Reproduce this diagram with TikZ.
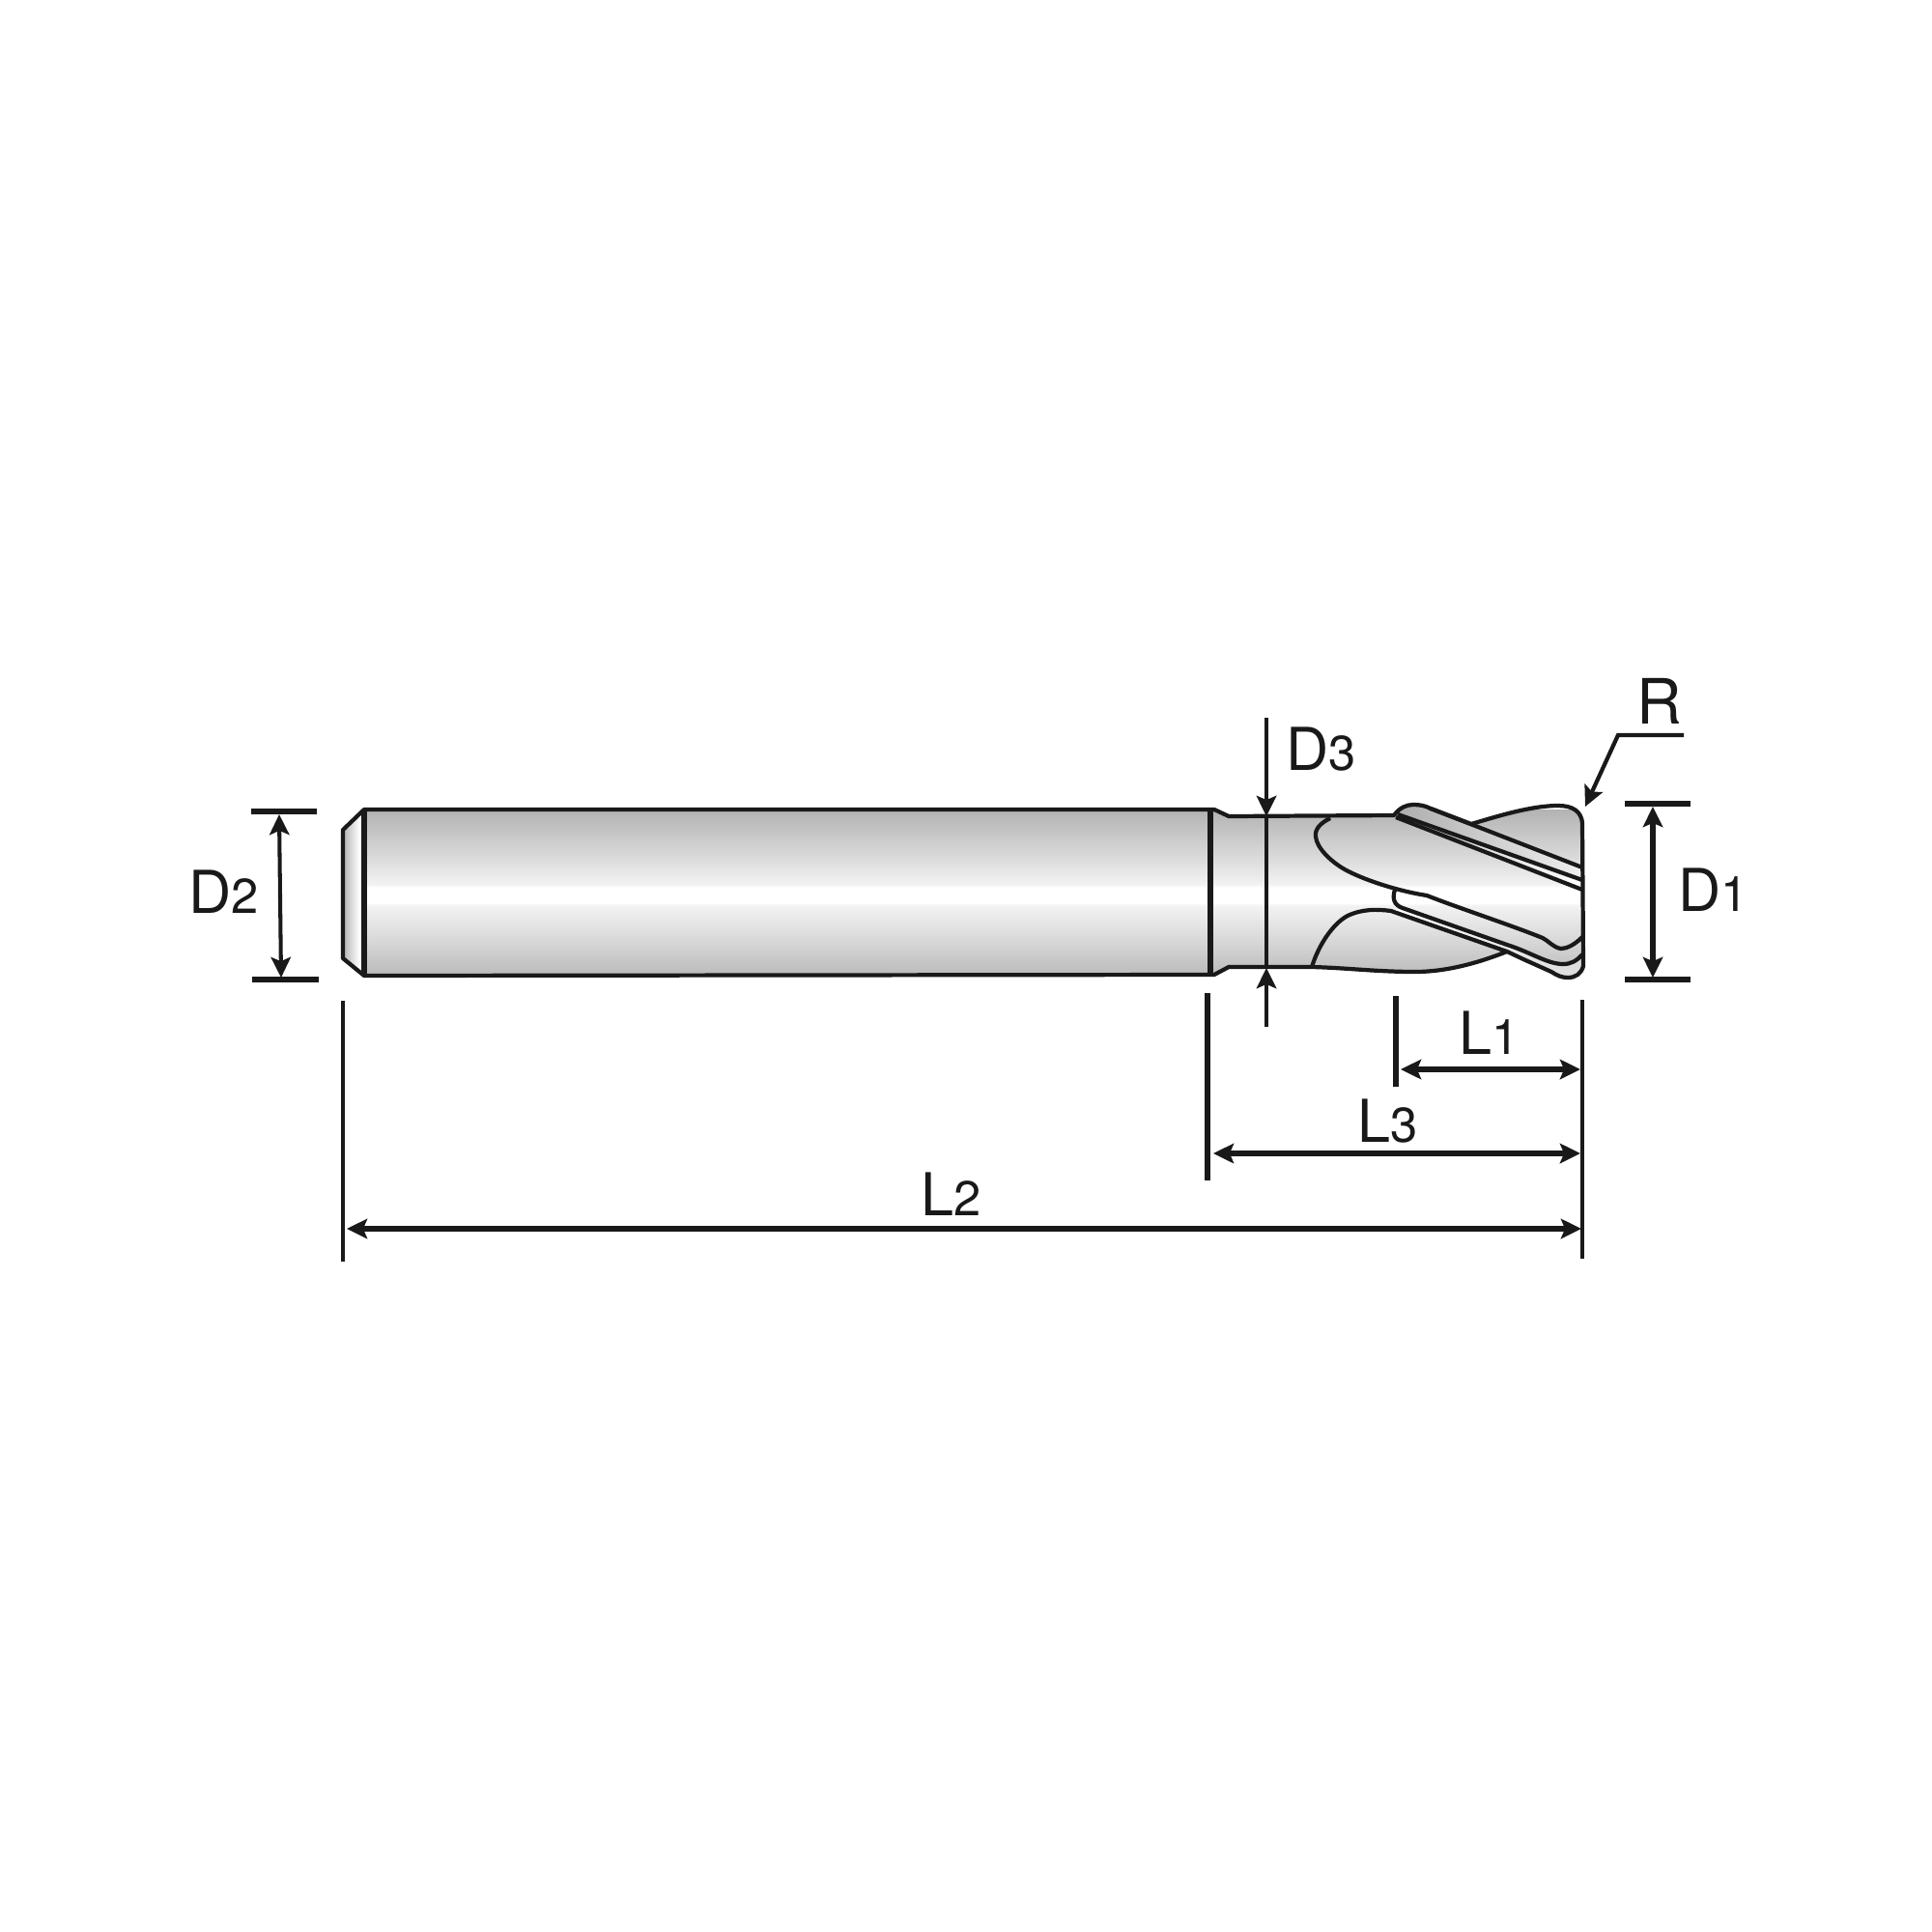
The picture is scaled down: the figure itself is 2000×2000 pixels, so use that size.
\documentclass[tikz,border=0pt]{standalone}
\usepackage{fontspec}
\setmainfont{TeX Gyre Heros}
\usetikzlibrary{arrows.meta}
\pgfdeclareverticalshading{toolgrad}{100bp}{
  color(0bp)=(black!27); color(25bp)=(black!27); color(36bp)=(black!15); color(46bp)=(black!5);
  color(47bp)=(white); color(51.5bp)=(white); color(52.5bp)=(black!5); color(62bp)=(black!16); color(75bp)=(black!30); color(100bp)=(black!30)}
\newcommand{\dimtext}[2]{#1{\fontsize{14.4}{15}\selectfont #2}}
\tikzset{
  x=0.01cm,y=-0.01cm,
  outline/.style={draw=inkc,line width=1.2pt,line join=round},
  thinline/.style={draw=inkc,line width=1.2pt},
  midline/.style={draw=inkc,line width=1.6pt},
  thickbar/.style={draw=inkc,line width=1.9pt},
  dimarrow/.style={draw=inkc,line width=1.6pt,{Stealth[length=6pt,width=5.8pt,inset=1.2pt]}-{Stealth[length=6pt,width=5.8pt,inset=1.2pt]}},
  slimarrow/.style={draw=inkc,line width=1.15pt,{Stealth[length=6pt,width=5.8pt,inset=1.2pt]}-{Stealth[length=6pt,width=5.8pt,inset=1.2pt]}},
  headarrow/.style={draw=inkc,line width=1.2pt,-{Stealth[length=6pt,width=5.8pt,inset=1.2pt]}},
  dimlabel/.style={anchor=base west,inner sep=0pt,text=inkc,font=\fontsize{17.4}{18}\selectfont},
}
\definecolor{inkc}{gray}{0.1}
\begin{document}
\begin{tikzpicture}
\useasboundingbox (0,0) rectangle (2000,2000);
% body shading
\begin{scope}
  \clip (377,838) -- (1257,838) -- (1272,845) -- (1443,844)
    .. controls (1449,836) and (1456,833) .. (1463,833)
    .. controls (1470,833) and (1475,834) .. (1481,837)
    -- (1523,853) .. controls (1550,845) and (1585,834) .. (1613,834)
    .. controls (1628,834) and (1637,840) .. (1638,852)
    -- (1639,1000) .. controls (1637,1008) and (1631,1012) .. (1623,1012)
    .. controls (1617,1012) and (1612,1010) .. (1606,1006)
    -- (1577,990) -- (1560,986) .. controls (1535,995) and (1500,1006) .. (1465,1006)
    .. controls (1425,1006) and (1395,1002) .. (1358,1001)
    -- (1272,1001) -- (1257,1009) -- (377,1010) -- cycle;
  \shade[shading=toolgrad] (370,838) rectangle (1645,1010);
\end{scope}
% chamfer
\begin{scope}
  \clip (355,859) -- (377,838) -- (377,1010) -- (355,992) -- cycle;
  \shade[left color=black!30,right color=white] (355,838) rectangle (372,1010);
  \fill[white] (372,838) rectangle (377,1010);
\end{scope}
% land fills
\shade[left color=black!32,right color=black!6] (1447,843) .. controls (1450,836) and (1456,833) .. (1463,833)
   .. controls (1470,833) and (1475,834) .. (1481,837) -- (1638,898) -- (1638,911) -- cycle;
\shade[left color=black!25,right color=white] (1447,843) -- (1638,911) -- (1638,921) -- (1445,846) -- cycle;
\shade[left color=white,right color=black!14] (1450,940) -- (1560,978) .. controls (1585,986) and (1602,998) .. (1618,998) .. controls (1626,998) and (1632,995) .. (1638,988)
   -- (1639,1000) .. controls (1637,1008) and (1631,1012) .. (1623,1012) .. controls (1617,1012) and (1612,1010) .. (1606,1006)
   -- (1577,993) -- (1560,985) -- (1440,943) -- cycle;
% outline
\draw[outline] (355,859) -- (377,838) -- (1257,838) -- (1272,845) -- (1443,844)
    .. controls (1449,836) and (1456,833) .. (1463,833)
    .. controls (1470,833) and (1475,834) .. (1481,837)
    -- (1523,853) .. controls (1550,845) and (1585,834) .. (1613,834)
    .. controls (1628,834) and (1637,840) .. (1638,852)
    -- (1639,1000) .. controls (1637,1008) and (1631,1012) .. (1623,1012)
    .. controls (1617,1012) and (1612,1010) .. (1606,1006)
    -- (1577,993) -- (1560,985) .. controls (1535,995) and (1500,1006) .. (1465,1006)
    .. controls (1425,1006) and (1395,1002) .. (1358,1001)
    -- (1272,1001) -- (1257,1009) -- (377,1010) -- (355,992) -- cycle;
\draw[thickbar] (377,838) -- (377,1010);
\draw[thickbar] (1253,838) -- (1253,1010);
% lands, flutes
\draw[outline] (1481,837) -- (1638,898);
\draw[outline] (1447,843) -- (1638,911);
\draw[outline] (1445,846) -- (1638,921);
\draw[outline] (1377,847) .. controls (1367,852) and (1361,858) .. (1362,866)
   .. controls (1363,878) and (1378,892) .. (1392,900)
   .. controls (1410,910) and (1445,922) .. (1477,927)
   .. controls (1510,940) and (1565,958) .. (1597,971)
   .. controls (1603,974) and (1608,981) .. (1616,982)
   .. controls (1622,982) and (1630,978) .. (1638,970);
\draw[outline] (1444,921) .. controls (1441,930) and (1443,937) .. (1452,940)
   -- (1560,978) .. controls (1585,986) and (1602,998) .. (1618,998)
   .. controls (1626,998) and (1632,995) .. (1638,988);
\draw[outline] (1358,1001) .. controls (1365,978) and (1380,956) .. (1395,948)
   .. controls (1410,941) and (1425,941) .. (1440,943)
   -- (1560,985);
% extension lines
\coordinate (d2topL) at (260,840); \coordinate (d2topR) at (328,840);
\coordinate (d2botL) at (261,1014); \coordinate (d2botR) at (330,1014);
\coordinate (d1topL) at (1682,832); \coordinate (d1topR) at (1750,832);
\coordinate (d1botL) at (1682,1014); \coordinate (d1botR) at (1750,1014);
\draw[thickbar] (d2topL) -- (d2topR);
\draw[thickbar] (d2botL) -- (d2botR);
\draw[thickbar] (d1topL) -- (d1topR);
\draw[thickbar] (d1botL) -- (d1botR);
\draw[slimarrow] (289,843) -- (291,1012);
\draw[dimarrow] (1711,835) -- (1711,1012);
\coordinate (extAt) at (355,1036); \coordinate (extAb) at (355,1306);
\coordinate (extBt) at (1250,1028); \coordinate (extBb) at (1250,1222);
\coordinate (extCt) at (1445,1031); \coordinate (extCb) at (1445,1125);
\coordinate (extDt) at (1638,1035); \coordinate (extDb) at (1638,1303);
\draw[thinline] (extAt) -- (extAb);
\draw[midline] (extBt) -- (extBb);
\draw[midline] (extCt) -- (extCb);
\draw[thinline] (extDt) -- (extDb);
\draw[dimarrow] (1450,1107) -- (1636,1107);
\draw[dimarrow] (1256,1194) -- (1636,1194);
\draw[dimarrow] (359,1272) -- (1637,1272);
% D3
\coordinate (d3t) at (1311,743); \coordinate (d3b) at (1311,1063);
\draw[thinline] (1311,845) -- (1311,1002);
\draw[headarrow] (d3t) -- (1311,845);
\draw[headarrow] (d3b) -- (1311,1002);
% R leader
\coordinate (rEnd) at (1743,761); \coordinate (rKnee) at (1675,761); \coordinate (rTip) at (1641,835);
\draw[headarrow] (rEnd) -- (rKnee) -- (rTip);
% labels
\node[dimlabel] (labD2) at (195,945) {\dimtext{D}{2}};
\node[dimlabel] (labD3) at (1331,797) {\dimtext{D}{3}};
\begin{scope}
  \clip (1700,880) rectangle (1800,960);
  \node[dimlabel] (labD1) at (1737,943) {\dimtext{D}{1}};
\end{scope}
\node[dimlabel,font=\fontsize{18.4}{19}\selectfont] (labR) at (1694,749) {R};
\node[dimlabel] (labL1) at (1510,1091) {\dimtext{L}{1}};
\node[dimlabel] (labL3) at (1405,1182) {\dimtext{L}{3}};
\node[dimlabel] (labL2) at (953,1258) {\dimtext{L}{2}};
\end{tikzpicture}
\end{document}
